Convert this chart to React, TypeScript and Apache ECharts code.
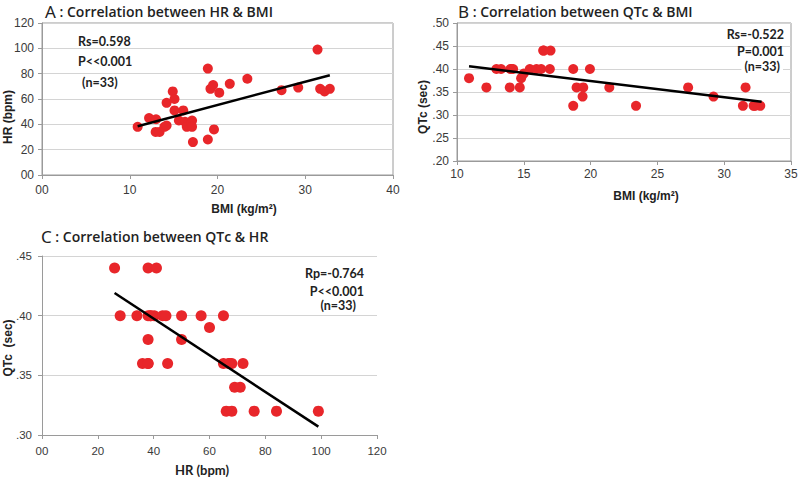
import React, { useEffect, useRef } from "react";
import * as echarts from "echarts";

// Panel A: BMI vs HR
const bmiA = [10.9, 12.2, 13.0, 12.95, 13.4, 13.95, 14.2, 14.2, 14.9, 15.1, 15.1, 16.1, 15.6, 16.3, 16.5, 17.1, 17.0, 17.1, 17.2, 18.9, 18.9, 19.6, 19.2, 19.5, 20.2, 21.4, 23.4, 27.3, 29.2, 31.4, 31.7, 32.2, 32.8];
const hrA = [38, 45, 44, 34, 34, 38, 39, 57, 66, 60, 51, 51, 43, 42, 38, 43, 41, 38, 26, 84, 28, 36, 68, 71, 65, 72, 76, 67, 69, 99, 68, 66, 68];
const trendA = [[10.9, 38.5], [32.8, 78.8]];

// Panel B: BMI vs QTc
const bmiB = [10.9, 12.2, 12.95, 13.3, 13.95, 14.05, 14.2, 14.7, 14.8, 15.0, 15.45, 15.95, 16.3, 16.45, 17.0, 16.95, 18.7, 18.7, 18.95, 19.45, 19.4, 19.95, 21.4, 23.4, 27.3, 29.2, 31.4, 31.6, 32.2, 32.7, 16.5, 14.0, 32.3];
const qtcB = [0.38, 0.36, 0.40, 0.40, 0.36, 0.40, 0.40, 0.36, 0.38, 0.39, 0.40, 0.40, 0.40, 0.44, 0.44, 0.40, 0.40, 0.32, 0.36, 0.36, 0.34, 0.40, 0.36, 0.32, 0.36, 0.34, 0.32, 0.36, 0.32, 0.32, 0.44, 0.40, 0.32];
const trendB = [[10.9, 0.406], [32.8, 0.329]];

// Panel C: HR vs QTc
const hrC = [26, 38, 41, 28, 34, 38, 38.8, 40.2, 43.2, 44.4, 50, 57, 65, 60, 38, 50, 36, 38, 45, 65, 67, 68, 72, 69, 71, 66, 68, 76, 84, 99, 39, 67, 38];
const qtcC = [0.44, 0.44, 0.44, 0.40, 0.40, 0.40, 0.40, 0.40, 0.40, 0.40, 0.40, 0.40, 0.40, 0.39, 0.38, 0.38, 0.36, 0.36, 0.36, 0.36, 0.36, 0.36, 0.36, 0.34, 0.34, 0.32, 0.32, 0.32, 0.32, 0.32, 0.40, 0.36, 0.36];
const trendC = [[26, 0.419], [99, 0.307]];

const titles = ["Correlation between HR & BMI", "Correlation between QTc & BMI", "Correlation between QTc & HR"];
const statsA = ["Rs=0.598", "P<<0.001", "(n=33)"];
const statsB = ["Rs=-0.522", "P=0.001", "(n=33)"];
const statsC = ["Rp=-0.764", "P<<0.001", "(n=33)"];

const RED = "#e8262a";
const AXIS = "#9a9a9a";
const GRIDC = "#d4d4d4";
const LABEL = "#3a3a3a";

const fmtInt = (v: number) => (v === 0 ? "00" : String(v));
const fmtDec = (v: number) => {
  const s = (Math.round(v * 100) / 100).toFixed(2);
  return s.replace(/^0/, "");
};

function axis(gridIndex: number, min: number, max: number, interval: number, fmt: (v: number) => string, margin: number, fontSize: number, family: string, split: boolean) {
  return {
    gridIndex,
    type: "value",
    min,
    max,
    interval,
    axisLine: { show: true, lineStyle: { color: AXIS, width: 1 } },
    axisTick: { show: true, length: 4, lineStyle: { color: AXIS } },
    splitLine: { show: split, lineStyle: { color: GRIDC, width: 1 } },
    axisLabel: { formatter: fmt, margin, fontSize, fontFamily: family, color: LABEL },
  };
}

export default function App() {
  const ref = useRef<HTMLDivElement>(null);
  useEffect(() => {
    if (!ref.current) return;
    const chart = echarts.init(ref.current, null, { renderer: "svg" });
    const titleRich = {
      a: { fontSize: 17, fontFamily: "Noto Sans", fontWeight: "normal", color: "#222", lineHeight: 20 },
      b: { fontSize: 14, fontFamily: "Open Sans", fontWeight: 600, color: "#222", lineHeight: 20 },
    };
    const stat = (t: string, x: number, y: number, align: string, bg: boolean) => ({
      type: "text",
      x,
      y,
      z: 10,
      style: {
        text: t,
        fill: "#222",
        font: "bold 12.5px Lato",
        textAlign: align,
        textVerticalAlign: "middle",
        backgroundColor: bg ? "#fff" : undefined,
        padding: bg ? [0, 3, 0, 3] : undefined,
      },
    });
    const nameFont = "bold 12px 'Liberation Sans'";
    const option: any = {
      animation: false,
      backgroundColor: "#fff",
      title: [
        { text: "{a|A}{b| : " + titles[0] + "}", left: 45, top: 1, padding: 0, textStyle: { rich: titleRich } },
        { text: "{a|B}{b| : " + titles[1] + "}", left: 458, top: 1, padding: 0, textStyle: { rich: titleRich } },
        { text: "{a|C}{b| : " + titles[2] + "}", left: 41, top: 226, padding: 0, textStyle: { rich: titleRich } },
      ],
      grid: [
        { left: 42, top: 23, width: 351, height: 152, show: true, borderColor: AXIS, borderWidth: 1, outerBoundsMode: "none" },
        { left: 457, top: 23, width: 334, height: 138, show: true, borderColor: AXIS, borderWidth: 1, outerBoundsMode: "none" },
        { left: 42, top: 256, width: 335, height: 179, outerBoundsMode: "none" },
      ],
      xAxis: [
        axis(0, 0, 40, 10, fmtInt, 9, 12, "Liberation Sans", false),
        axis(1, 10, 35, 5, (v: number) => String(v), 7, 12, "Liberation Sans", false),
        axis(2, 0, 120, 20, fmtInt, 10, 11.5, "Liberation Sans", false),
      ],
      yAxis: [
        axis(0, 0, 120, 20, fmtInt, 8, 12, "Liberation Sans", true),
        axis(1, 0.2, 0.5, 0.05, fmtDec, 8, 12, "Liberation Sans", true),
        axis(2, 0.3, 0.45, 0.05, fmtDec, 10, 11.5, "Liberation Sans", true),
      ],
      series: [
        { type: "scatter", xAxisIndex: 0, yAxisIndex: 0, symbolSize: 10, itemStyle: { color: RED, opacity: 1 }, data: bmiA.map((b, i) => [b, hrA[i]]), z: 2 },
        { type: "line", xAxisIndex: 0, yAxisIndex: 0, showSymbol: false, symbol: "none", lineStyle: { color: "#000", width: 2.5 }, data: trendA, z: 3 },
        { type: "scatter", xAxisIndex: 1, yAxisIndex: 1, symbolSize: 10, itemStyle: { color: RED, opacity: 1 }, data: bmiB.map((b, i) => [b, qtcB[i]]), z: 2 },
        { type: "line", xAxisIndex: 1, yAxisIndex: 1, showSymbol: false, symbol: "none", lineStyle: { color: "#000", width: 2.5 }, data: trendB, z: 3 },
        { type: "scatter", xAxisIndex: 2, yAxisIndex: 2, symbolSize: 11, itemStyle: { color: RED, opacity: 1 }, data: hrC.map((h, i) => [h, qtcC[i]]), z: 2 },
        { type: "line", xAxisIndex: 2, yAxisIndex: 2, showSymbol: false, symbol: "none", lineStyle: { color: "#000", width: 2.5 }, data: trendC, z: 3 },
      ],
      graphic: [
        stat(statsA[0], 78, 41, "left", false),
        stat(statsA[1], 78, 61, "left", false),
        stat(statsA[2], 82, 82, "left", false),
        stat(statsB[0], 784, 34, "right", false),
        stat(statsB[1], 784, 51, "right", false),
        stat(statsB[2], 783, 66, "right", true),
        stat(statsC[0], 364, 273, "right", false),
        stat(statsC[1], 364, 291, "right", false),
        stat(statsC[2], 356, 305, "right", false),
        { type: "text", x: 244, y: 209, style: { text: "BMI (kg/m²)", font: nameFont, fill: "#222", textAlign: "center", textVerticalAlign: "middle" } },
        { type: "text", x: 646, y: 196, style: { text: "BMI (kg/m²)", font: nameFont, fill: "#222", textAlign: "center", textVerticalAlign: "middle" } },
        { type: "text", x: 202, y: 470, style: { text: "HR (bpm)", font: "bold 13px Lato", fill: "#222", textAlign: "center", textVerticalAlign: "middle" } },
        { type: "text", x: 8, y: 117, rotation: Math.PI / 2, style: { text: "HR (bpm)", font: nameFont, fill: "#222", textAlign: "center", textVerticalAlign: "middle" } },
        { type: "text", x: 423, y: 107, rotation: Math.PI / 2, style: { text: "QTc (sec)", font: nameFont, fill: "#222", textAlign: "center", textVerticalAlign: "middle" } },
        { type: "text", x: 8, y: 348, rotation: Math.PI / 2, style: { text: "QTc  (sec)", font: nameFont, fill: "#222", textAlign: "center", textVerticalAlign: "middle" } },
      ],
    };
    chart.setOption(option);
    return () => chart.dispose();
  }, []);
  return <div ref={ref} style={{ position: "absolute", left: 0, top: 0, width: 800, height: 479, background: "#fff" }} />;
}
